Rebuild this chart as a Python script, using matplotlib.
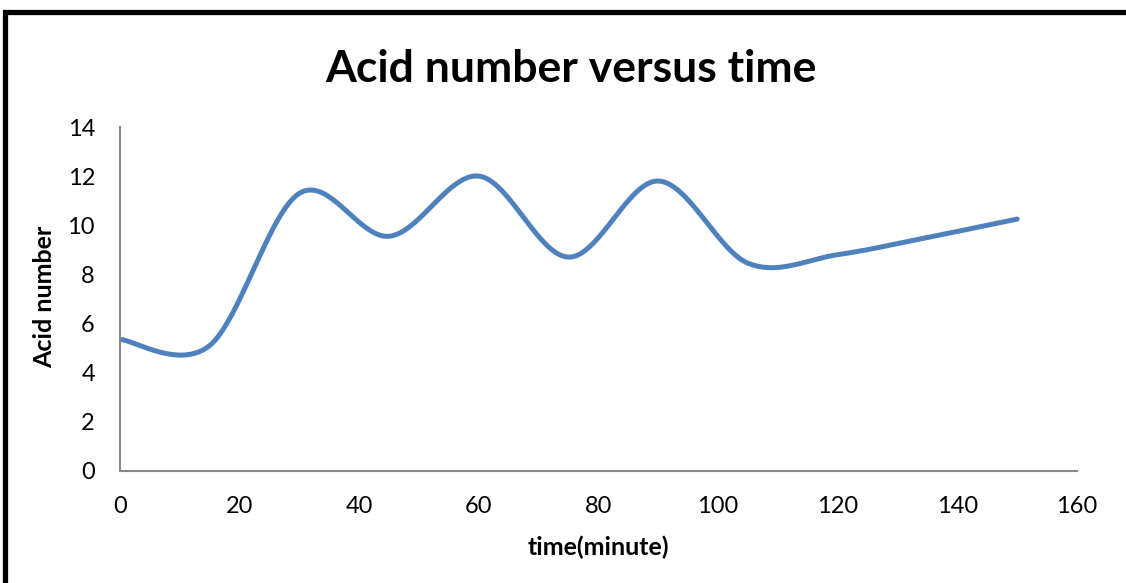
import numpy as np
import matplotlib
matplotlib.use('Agg')
import matplotlib.pyplot as plt
from matplotlib.patches import Rectangle

# sampled acid number readings
time_min = [0, 15, 30, 45, 60, 75, 90, 105, 120, 135, 150]
acid_number = [5.35, 5.1, 11.3, 9.55, 12.0, 8.7, 11.8, 8.45, 8.8, 9.5, 10.25]

x_ticks = [0, 20, 40, 60, 80, 100, 120, 140, 160]
y_ticks = [0, 2, 4, 6, 8, 10, 12, 14]


def smooth_line(x, y, n=40):
    """Bezier smoothing of a polyline, spreadsheet style (Catmull-Rom controls)."""
    pts = np.column_stack([x, y]).astype(float)
    ext = np.vstack([pts[0], pts, pts[-1]])
    out = []
    t = np.linspace(0, 1, n)[:, None]
    for i in range(len(pts) - 1):
        p0, p1, p2, p3 = ext[i], ext[i + 1], ext[i + 2], ext[i + 3]
        c1 = p1 + (p2 - p0) / 6
        c2 = p2 - (p3 - p1) / 6
        seg = ((1 - t) ** 3) * p1 + 3 * ((1 - t) ** 2) * t * c1 \
            + 3 * (1 - t) * t ** 2 * c2 + t ** 3 * p2
        out.append(seg if i == 0 else seg[1:])
    out = np.vstack(out)
    return out[:, 0], out[:, 1]


plt.rcParams['font.family'] = ['Lato', 'DejaVu Sans']

W, H = 1126, 583
fig = plt.figure(figsize=(W / 100, H / 100), dpi=100)
ax = fig.add_axes([120 / W, 1 - 470.7 / H, (1077 - 120) / W, (470.7 - 127) / H])

sx, sy = smooth_line(time_min, acid_number)
ax.plot(sx, sy, color='#4F81BD', lw=3.6, solid_capstyle='round')

ax.set_xlim(0, 160)
ax.set_ylim(0, 14)
ax.set_xticks(x_ticks)
ax.set_yticks(y_ticks)
ax.tick_params(length=0, labelsize=17)
ax.tick_params(axis='x', pad=18)
ax.tick_params(axis='y', pad=18)
for side in ('top', 'right'):
    ax.spines[side].set_visible(False)
for side in ('left', 'bottom'):
    ax.spines[side].set_color('#898989')
    ax.spines[side].set_linewidth(1.5)

fig.text(598 / W, 1 - 547 / H, 'time(minute)', ha='center', va='center',
         fontsize=18, fontweight='bold')
fig.text(45 / W, 1 - 297 / H, 'Acid number', ha='center', va='center',
         rotation=90, fontsize=18, fontweight='bold')

fig.text(571 / W, 1 - 69 / H, 'Acid number versus time', ha='center', va='center',
         fontsize=32, fontweight='bold')

# chart border, running off the right and bottom edges
fig.patches.append(Rectangle((5 / W, -0.1), 1.2, 1 - 12 / H + 0.1,
                             transform=fig.transFigure, fill=False,
                             edgecolor='black', lw=3.8))

fig.savefig('out.png', dpi=100)
